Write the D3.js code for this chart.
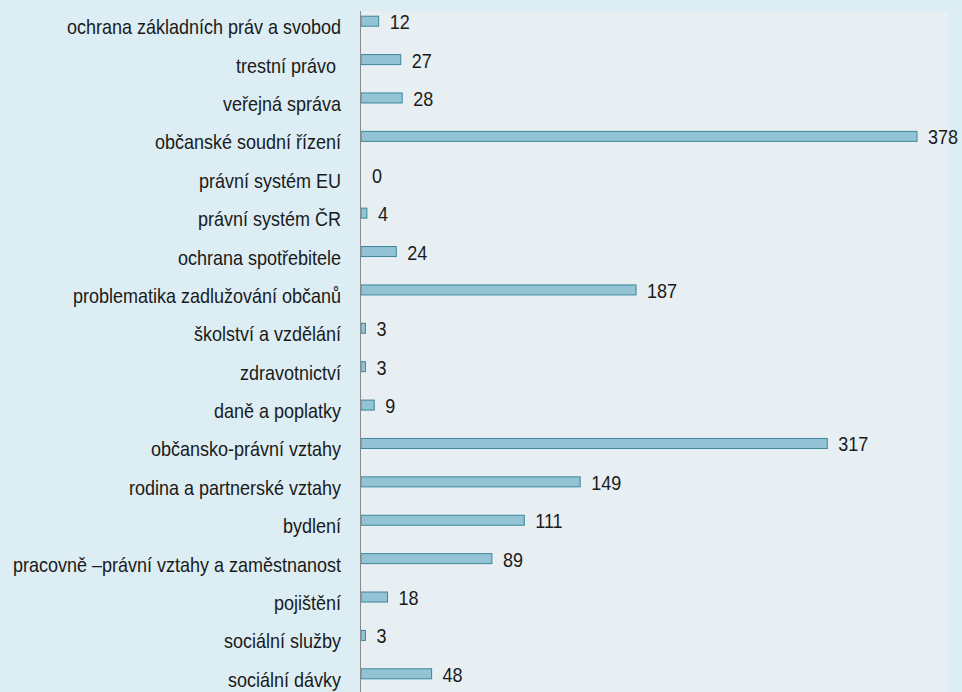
<!DOCTYPE html>
<html><head><meta charset="utf-8">
<script src="https://cdn.jsdelivr.net/npm/d3@7"></script>
<style>body{margin:0;background:#dcedf4;} svg text{white-space:pre;}</style>
</head><body>
<svg id="c" width="962" height="692"></svg>
<script>
const categories = ["ochrana základních práv a svobod","trestní právo ","veřejná správa","občanské soudní řízení","právní systém EU","právní systém ČR","ochrana spotřebitele","problematika zadlužování občanů","školství a vzdělání","zdravotnictví","daně a poplatky","občansko-právní vztahy","rodina a partnerské vztahy","bydlení","pracovně –právní vztahy a zaměstnanost","pojištění","sociální služby","sociální dávky"];
const values = [12,27,28,378,0,4,24,187,3,3,9,317,149,111,89,18,3,48];

const svg = d3.select("#c");
const font = "'Liberation Sans',Arial,sans-serif";
const fs = 20, sx = 0.9;
svg.append("rect").attr("width",962).attr("height",692).attr("fill","#dcedf4");
svg.append("rect").attr("x",361).attr("y",11).attr("width",587).attr("height",681).attr("fill","#e7eff3");

const x = d3.scaleLinear().domain([0,378]).range([361,917]);
const y = d3.scaleBand().domain(categories).range([2,693]).paddingInner(0.73).paddingOuter(0.365);
const bh = 10;
const cy = i => y(categories[i]) + y.bandwidth()/2;

svg.selectAll("rect.bar").data(values).join("rect").attr("class","bar")
  .attr("x",x(0)).attr("y",(d,i)=>cy(i)-bh/2)
  .attr("width",d=>Math.max(0,x(d)-x(0))).attr("height",bh)
  .attr("fill",d=>d>0?"#93c4d6":"none").attr("stroke",d=>d>0?"#3f8599":"none").attr("stroke-width",1);

const yAxis = d3.axisLeft(y).tickSize(0).tickPadding(0);
const g = svg.append("g").attr("transform","translate(360,0)").call(yAxis);
g.select(".domain").remove();
g.selectAll("text").attr("x",0).attr("dy",null)
  .attr("transform",`translate(-19,13) scale(${sx},1)`)
  .attr("font-family",font).attr("font-size",fs).attr("fill","#1a1a1a");
svg.append("line").attr("x1",360.5).attr("x2",360.5).attr("y1",11).attr("y2",692).attr("stroke","#8a8a8a");

svg.selectAll("text.val").data(values).join("text").attr("class","val")
  .attr("transform",(d,i)=>`translate(${x(d)+11},${cy(i)+1}) scale(${sx},1)`)
  .attr("dy","0.35em").attr("font-family",font).attr("font-size",fs).attr("fill","#1a1a1a")
  .text(d=>d);
</script></body></html>
